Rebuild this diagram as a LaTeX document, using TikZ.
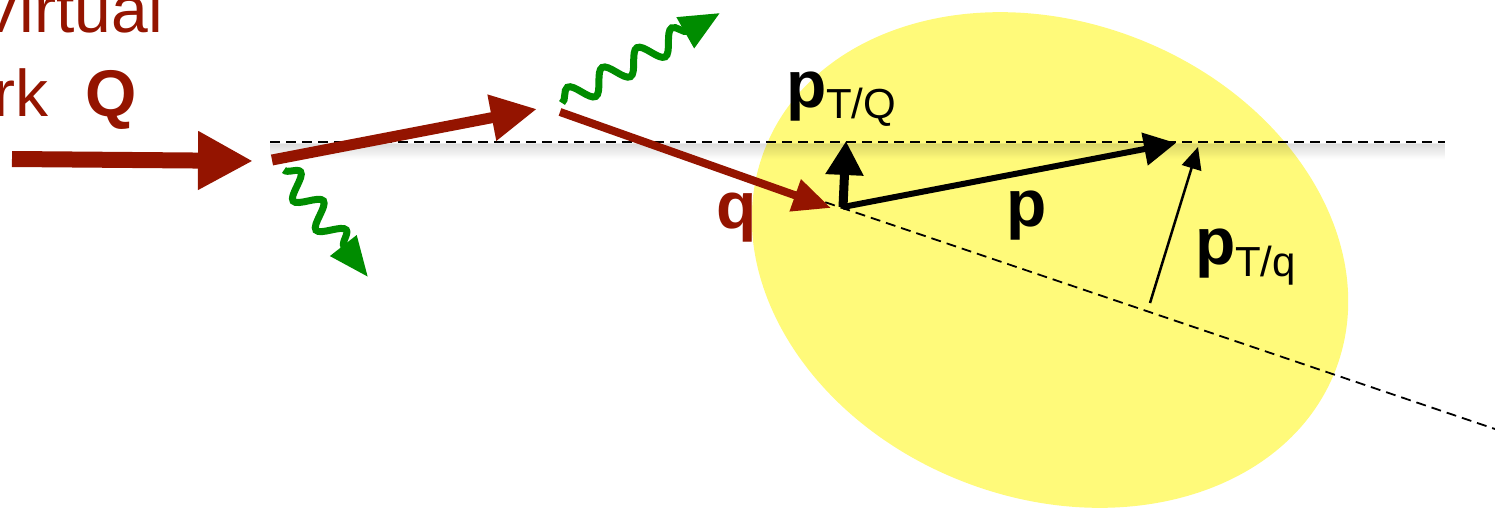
\documentclass[tikz,border=0pt]{standalone}
\usepackage{fontspec}
\setmainfont{Liberation Sans}
\usetikzlibrary{arrows.meta,decorations.pathmorphing}
\definecolor{qred}{RGB}{148,20,0}
\definecolor{glu}{RGB}{0,140,0}
\definecolor{blob}{RGB}{255,250,122}
\newcommand{\bigfont}{\fontsize{66}{79}\selectfont}
\newcommand{\subfont}{\fontsize{42}{50}\selectfont}
\begin{document}
\begin{tikzpicture}[x=1pt,y=-1pt,
  lbl/.style={inner sep=0pt, outer sep=0pt, font=\bigfont},
  quark/.style={qred, line cap=butt},
  gluon/.style={glu, line width=7pt, decorate,
     decoration={snake, amplitude=12pt, segment length=37pt, post length=36pt}},
  axis/.style={black, line width=1.8pt, dash pattern=on 10pt off 6pt},
]
\useasboundingbox (0,0) rectangle (1495,508);
\clip (0,0) rectangle (1495,508);

% yellow blob
\fill[blob, rotate around={-21:(1050,260)}] (1050,260) ellipse [x radius=306, y radius=238];

% shadow under horizontal axis
\foreach \i in {0,...,15}{
  \draw[black, opacity={0.07*(1-\i/16)}, line width=1.2pt] (270,{144+\i}) -- (1445,{144+\i});
}

% coordinates
\coordinate (a0) at (12,159);
\coordinate (a1) at (253,161);
\coordinate (b0) at (272,160);
\coordinate (b1) at (537,109);
\coordinate (c0) at (560,112);
\coordinate (c1) at (831,208);
\coordinate (g1s) at (284,170);
\coordinate (g1e) at (368,277);
\coordinate (g2s) at (562,103);
\coordinate (g2e) at (720,13);
\coordinate (h0) at (270,142);
\coordinate (h1) at (1445,142);
\coordinate (d0) at (795,192);
\coordinate (d1) at (1495,429);
\coordinate (v) at (843,207);
\coordinate (vt) at (846,141);
\coordinate (pt) at (1176,143);
\coordinate (t0) at (1150,303);
\coordinate (t1) at (1198,147);

% axes
\draw[axis] (h0) -- (h1);
\draw[axis] (d0) -- (d1);

% quark lines
\draw[quark, line width=16pt, -{Triangle[length=55pt,width=55pt]}] (a0) -- (a1);
\draw[quark, line width=11pt, -{Triangle[length=46pt,width=44pt]}] (b0) -- (b1);
\draw[quark, line width=8pt, -{Triangle[length=38pt,width=32pt]}] (c0) -- (c1);

% gluons
\draw[gluon, -{Triangle[length=40pt,width=32pt]}] (g1s) -- (g1e);
\draw[gluon, decoration={segment length=40pt, amplitude=11pt}, -{Triangle[length=40pt,width=34pt]}] (g2s) -- (g2e);

% momentum vectors
\draw[black, line width=6pt, -{Triangle[length=32pt,width=32pt]}] (v) -- (pt);
\draw[black, line width=9pt, -{Triangle[length=34pt,width=36pt]}] (v) -- (vt);
\draw[black, line width=2.5pt, -{Triangle[length=22pt,width=20pt]}] (t0) -- (t1);

% labels
\node[lbl, qred, anchor=base east] (virt) at (163,33) {Virtual};
\node[lbl, qred, anchor=base east] (quarkQ) at (137,117) {quark\ \ \textbf{Q}};
\node[lbl, anchor=base west] (ptQ) at (786,107) {\textbf{p}\raisebox{-12pt}{\subfont T/Q}};
\node[lbl, qred, anchor=base west] (qlab) at (716,228) {\textbf{q}};
\node[lbl, anchor=base west] (plab) at (1006,226) {\textbf{p}};
\node[lbl, anchor=base west] (ptq) at (1195,264) {\textbf{p}\raisebox{-12pt}{\subfont T/q}};
\end{tikzpicture}
\end{document}
